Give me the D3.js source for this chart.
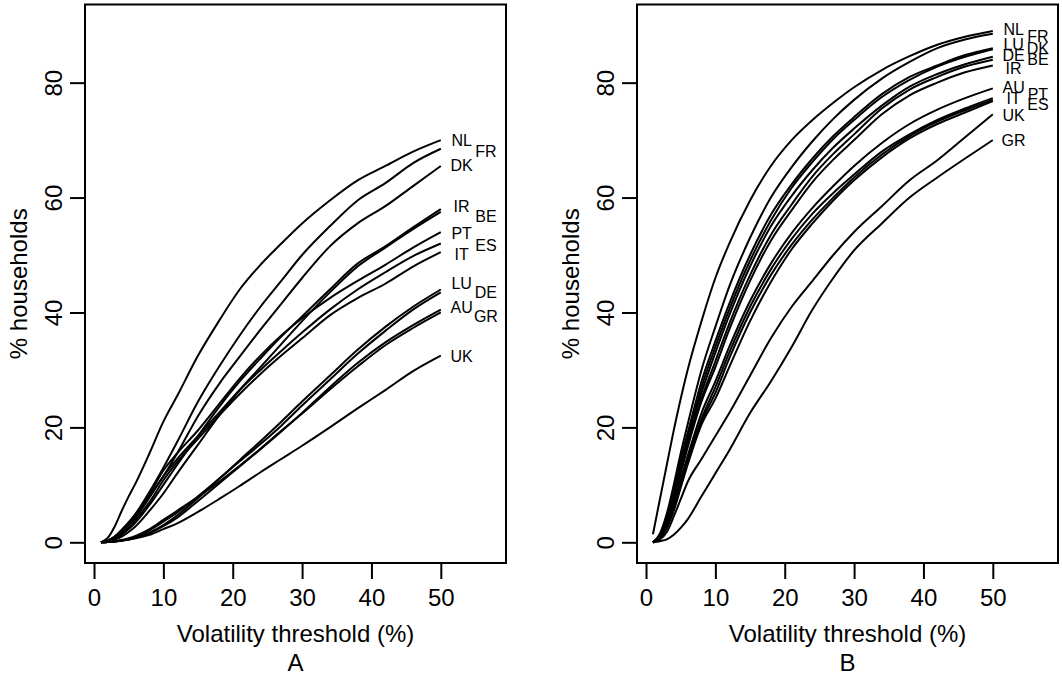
<!DOCTYPE html>
<html>
<head>
<meta charset="utf-8">
<script src="https://cdn.jsdelivr.net/npm/d3@7"></script>
<style>
  body { margin: 0; background: #fff; }
  svg { display: block; }
  text { font-family: "Liberation Sans", Arial, Helvetica, sans-serif; fill: #000; }
</style>
</head>
<body>
<svg id="chart" width="1062" height="677"></svg>
<script>
// Volatility thresholds (%) at which the share of households is evaluated
const thresholds = [1, 2, 3, 4, 5, 6, 8, 10, 12, 15, 18, 21, 24, 27, 30, 34, 38, 42, 46, 50];

// Panel A: % households above each threshold, one row per country
const countriesA = ["NL", "FR", "DK", "IR", "BE", "PT", "ES", "IT", "LU", "DE", "AU", "GR", "UK"];
const valuesA = [
  [0, 0.8, 2.8, 5.5, 8, 10.3, 15.5, 21, 25.5, 32.5, 38.5, 44, 48.3, 52, 55.5, 59.5, 63, 65.5, 68, 70],
  [0, 0.3, 1, 2.2, 3.5, 5, 8.8, 13, 17.5, 24.5, 30.5, 36, 41, 45.5, 50, 55, 59.5, 62.5, 66, 68.5],
  [0, 0.3, 1, 2, 3.2, 4.5, 8, 11.5, 15.5, 22, 27.5, 32.3, 37, 41.5, 46, 51.5, 55.5, 58.5, 62, 65.5],
  [0, 0.2, 0.6, 1.3, 2.3, 3.5, 6.5, 10, 13.5, 18.5, 23.5, 28, 32, 35.8, 39.3, 44, 48.5, 51.5, 54.8, 58],
  [0, 0.2, 0.5, 1, 1.8, 2.8, 5.5, 8.5, 12, 17, 22, 26.5, 30.5, 34.5, 38.5, 43.5, 48, 51.3, 54.5, 57.5],
  [0, 0.3, 1, 2, 3.3, 4.8, 8.3, 12.5, 15.5, 19.5, 24, 28.5, 32.5, 36, 39, 42.5, 45.5, 48.3, 51.3, 54],
  [0, 0.3, 0.9, 1.8, 3, 4.3, 7.8, 11.5, 14.5, 18.5, 22.5, 26.5, 30, 33.3, 36.5, 40.5, 44, 47, 49.8, 52],
  [0, 0.2, 0.7, 1.5, 2.6, 3.9, 7, 10.8, 14, 18, 22, 25.8, 29.3, 32.5, 35.5, 39.5, 42.5, 45, 48, 50.5],
  [0, 0.05, 0.15, 0.3, 0.5, 0.8, 1.7, 3, 4.7, 7.7, 11, 14.3, 17.6, 21, 24.5, 29, 33.5, 37.5, 41, 44],
  [0, 0.05, 0.15, 0.3, 0.6, 1, 2.1, 3.6, 5.2, 8, 11, 14.1, 17.1, 20.3, 23.8, 28.3, 32.8, 36.8, 40.5, 43.5],
  [0, 0.05, 0.15, 0.3, 0.5, 0.8, 1.6, 2.8, 4.3, 7.2, 10.2, 13.2, 16.2, 19.3, 22.5, 27, 31.2, 34.8, 37.8, 40.5],
  [0, 0.05, 0.2, 0.4, 0.7, 1.1, 2.3, 3.9, 5.5, 7.9, 10.5, 13.3, 16.3, 19.4, 22.4, 26.6, 30.6, 34.3, 37.3, 40],
  [0, 0.05, 0.15, 0.3, 0.5, 0.7, 1.3, 2.3, 3.3, 5.3, 7.5, 9.8, 12.2, 14.5, 16.8, 20, 23.3, 26.5, 29.8, 32.5]
];
const labelYA = [70, 68.1, 65.6, 58.4, 56.7, 53.8, 51.6, 50.1, 45.1, 43.5, 40.9, 39.3, 32.4];
const labelColA = [0, 1, 0, 0, 1, 0, 1, 0, 0, 1, 0, 1, 0];

// Panel B
const countriesB = ["NL", "FR", "LU", "DK", "DE", "BE", "IR", "AU", "PT", "IT", "ES", "UK", "GR"];
const valuesB = [
  [1.4, 7.5, 13.5, 19.5, 25, 30, 38.5, 46, 52, 59.5, 65.5, 70, 73.5, 76.5, 79.2, 82.2, 84.6, 86.6, 88, 89],
  [0, 1.5, 5, 10, 15.5, 20.5, 30, 37.5, 44.5, 53, 60, 65.3, 69.8, 73.7, 77, 80.7, 83.6, 86, 87.5, 88.5],
  [0, 1.3, 4.5, 9.5, 14.5, 19, 28, 35, 41.5, 50, 57, 62.3, 66.8, 70.7, 74, 78, 81, 83, 84.8, 86],
  [0, 1.2, 4.2, 9, 13.5, 18, 27, 34, 40.5, 49, 56, 61.7, 66.2, 70.2, 73.5, 77.5, 80.5, 82.8, 84.5, 85.8],
  [0, 1.1, 4, 8.5, 13, 17.5, 26, 33, 39.5, 48, 55, 60.3, 64.8, 68.7, 72, 76, 79.3, 81.5, 83.2, 84.5],
  [0, 1, 3.7, 8, 12.5, 17, 25, 31.5, 38, 46.5, 53.5, 58.8, 63.7, 67.6, 71, 75.5, 78.8, 81, 82.8, 84],
  [0, 1, 3.5, 7.5, 12, 16.5, 24.5, 30.5, 37, 45.5, 52.5, 57.8, 62.7, 66.6, 70, 74.5, 77.8, 80, 81.8, 83],
  [0, 0.9, 3.2, 7, 11, 15, 22.5, 28, 34, 42, 48.5, 53.8, 58.2, 62, 65.5, 69.5, 72.8, 75.3, 77.3, 79],
  [0, 0.8, 3, 6.5, 10.5, 14.5, 21.5, 27, 33, 41, 47.5, 52.8, 57.2, 60.8, 64, 68, 71, 73.5, 75.5, 77.3],
  [0, 0.8, 2.8, 6, 10, 14, 21, 26, 32, 40, 46.5, 51.8, 56.2, 60, 63.5, 67.5, 70.7, 73.2, 75.2, 77],
  [0, 0.7, 2.5, 5.5, 9.5, 13.5, 20.5, 25, 30.5, 38.5, 45.3, 51, 55.5, 59.5, 63, 67, 70.3, 72.8, 74.8, 76.8],
  [0, 0.5, 1.8, 4.5, 7.5, 10.5, 14.5, 18.5, 22.5, 29, 35.5, 41, 45.5, 50, 54, 58.5, 63, 66.5, 70.5, 74.5],
  [0, 0.2, 0.5, 1.3, 2.5, 4, 8, 12, 16, 22.5, 28, 34, 40.5, 46, 50.8, 55.5, 60, 63.5, 66.8, 70]
];
const labelYB = [89.2, 88, 86.6, 86, 84.8, 84, 82.4, 79.2, 78, 77.2, 76.2, 74.3, 70];
const labelColB = [0, 1, 0, 1, 0, 1, 0, 0, 1, 0, 1, 0, 0];

// Axis ticks, label columns and titles
const xTicks = [0, 10, 20, 30, 40, 50];
const yTicks = [0, 20, 40, 60, 80];
const labelColumnsX = [53, 56.5];
const panelNames = ["A", "B"];
const xTitle = "Volatility threshold (%)";
const yTitle = "% households";

const svg = d3.select("#chart");

const xLim = [-1.3, 59.4];
const yLim = [-3.6, 93.6];
const panelWidth = 421;
const boxTop = 4.5, boxBottom = 563;
const panelLefts = [85, 637];

const panels = [
  { name: panelNames[0], countries: countriesA, values: valuesA, labelY: labelYA, labelCol: labelColA },
  { name: panelNames[1], countries: countriesB, values: valuesB, labelY: labelYB, labelCol: labelColB }
];

panels.forEach((p, i) => {
  const left = panelLefts[i];
  const x = d3.scaleLinear().domain(xLim).range([left, left + panelWidth]);
  const y = d3.scaleLinear().domain(yLim).range([boxBottom, boxTop]);
  const g = svg.append("g");

  // x axis: ticks hanging below the frame
  const xa = g.append("g").attr("transform", `translate(0,${boxBottom})`)
    .call(d3.axisBottom(x).tickValues(xTicks).tickSize(16).tickSizeOuter(0));
  xa.select(".domain").remove();
  xa.selectAll(".tick line").attr("stroke", "#000").attr("stroke-width", 2);
  xa.selectAll(".tick text").attr("font-size", 24)
    .attr("y", 35).attr("dy", "0.35em");

  // y axis: rotated tick labels
  const ya = g.append("g").attr("transform", `translate(${left},0)`)
    .call(d3.axisLeft(y).tickValues(yTicks).tickSize(15).tickSizeOuter(0));
  ya.select(".domain").remove();
  ya.selectAll(".tick line").attr("stroke", "#000").attr("stroke-width", 2);
  ya.selectAll(".tick text")
    .attr("font-size", 24)
    .attr("text-anchor", "middle")
    .attr("x", 0).attr("dy", 0)
    .attr("dominant-baseline", "central")
    .attr("transform", `translate(${-32},0) rotate(-90)`);

  // curves
  const line = d3.line()
    .x((d, k) => x(thresholds[k]))
    .y(d => y(d))
    .curve(d3.curveMonotoneX);
  g.append("g").selectAll("path").data(p.values).join("path")
    .attr("d", line)
    .attr("fill", "none")
    .attr("stroke", "#000")
    .attr("stroke-width", 2)
    .attr("stroke-linejoin", "round");

  // country labels
  g.append("g").selectAll("text").data(p.countries).join("text")
    .attr("x", (d, k) => x(labelColumnsX[p.labelCol[k]]))
    .attr("y", (d, k) => y(p.labelY[k]))
    .attr("text-anchor", "middle")
    .attr("dominant-baseline", "central")
    .attr("font-size", 16)
    .text(d => d);

  // frame
  g.append("rect")
    .attr("x", left).attr("y", boxTop)
    .attr("width", panelWidth).attr("height", boxBottom - boxTop)
    .attr("fill", "none").attr("stroke", "#000").attr("stroke-width", 2);

  // titles
  const cx = left + panelWidth / 2;
  g.append("text").attr("x", cx).attr("y", 642)
    .attr("text-anchor", "middle").attr("font-size", 24).text(xTitle);
  g.append("text").attr("x", cx).attr("y", 671)
    .attr("text-anchor", "middle").attr("font-size", 24).text(p.name);
  g.append("text")
    .attr("transform", `translate(${left - 67},${(boxTop + boxBottom) / 2}) rotate(-90)`)
    .attr("text-anchor", "middle").attr("dominant-baseline", "central")
    .attr("font-size", 24).text(yTitle);
});
</script>
</body>
</html>
